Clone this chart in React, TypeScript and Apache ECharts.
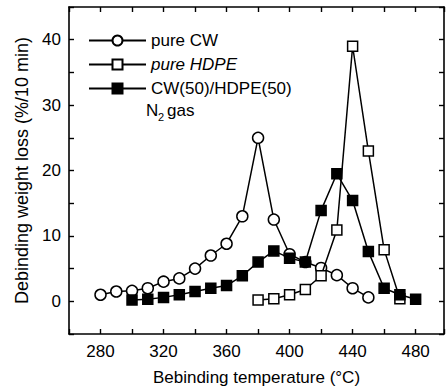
import React, { useEffect, useRef } from "react";
import * as echarts from "echarts";

const cwTemps = [280, 290, 300, 310, 320, 330, 340, 350, 360, 370, 380, 390, 400, 410, 420, 430, 440, 450];
const cwValues = [1.0, 1.5, 1.6, 2.0, 3.0, 3.5, 5.0, 7.0, 8.8, 13.0, 25.0, 12.5, 7.2, 6.0, 5.1, 4.0, 2.0, 0.6];

const hdpeTemps = [380, 390, 400, 410, 420, 430, 440, 450, 460, 470];
const hdpeValues = [0.2, 0.4, 1.0, 1.8, 3.9, 10.9, 39.0, 23.0, 7.9, 0.4];

const mixTemps = [300, 310, 320, 330, 340, 350, 360, 370, 380, 390, 400, 410, 420, 430, 440, 450, 460, 470, 480];
const mixValues = [0.2, 0.3, 0.6, 1.0, 1.5, 2.0, 2.4, 3.9, 6.0, 7.7, 6.6, 6.0, 13.9, 19.5, 15.4, 7.6, 2.0, 1.0, 0.3];

const seriesNames = ["pure CW", "pure HDPE", "CW(50)/HDPE(50)"];
const xAxisTitle = "Bebinding temperature (°C)";
const yAxisTitle = "Debinding weight loss (%/10 min)";

const FONT = "Liberation Sans, Arial, Helvetica, sans-serif";

function pairs(xs: number[], ys: number[]) {
  return xs.map((x, i) => [x, ys[i]]);
}

export default function App() {
  const ref = useRef<HTMLDivElement>(null);
  useEffect(() => {
    if (!ref.current) return;
    const chart = echarts.init(ref.current, undefined, { renderer: "svg" });
    const axisLine = { show: true, onZero: false, lineStyle: { color: "#000", width: 1.6 } };
    const tick = { show: true, inside: true, length: 5, lineStyle: { color: "#000", width: 1.4 } };
    const lineStyle = { color: "#000", width: 1.5 };
    chart.setOption({
      animation: false,
      backgroundColor: "#fff",
      grid: { left: 69, right: 0, top: 7, bottom: 58, containLabel: false },
      legend: {
        orient: "vertical",
        left: 83,
        top: 27,
        itemWidth: 57,
        itemHeight: 12.5,
        itemGap: 7,
        data: seriesNames,
        textStyle: {
          fontFamily: FONT,
          fontSize: 17,
          color: "#000",
          rich: { i: { fontFamily: FONT, fontSize: 17, fontStyle: "italic", color: "#000" } },
        },
        formatter: (n: string) => (n === "pure HDPE" ? "{i|pure HDPE}" : n),
      },
      xAxis: [
        {
          type: "value",
          min: 260,
          max: 498,
          interval: 20,
          position: "bottom",
          name: xAxisTitle,
          nameLocation: "middle",
          nameGap: 35,
          nameTextStyle: { fontFamily: FONT, fontSize: 17, color: "#000" },
          axisLine,
          axisTick: tick,
          splitLine: { show: false },
          axisLabel: {
            fontFamily: FONT,
            fontSize: 17,
            color: "#000",
            margin: 9,
            formatter: (v: number) => (v % 40 === 0 ? String(v) : ""),
          },
        },
        {
          type: "value",
          min: 260,
          max: 498,
          interval: 20,
          position: "top",
          axisLine,
          axisTick: tick,
          splitLine: { show: false },
          axisLabel: { show: false },
        },
      ],
      yAxis: [
        {
          type: "value",
          min: -5,
          max: 45,
          interval: 5,
          position: "left",
          name: yAxisTitle,
          nameLocation: "middle",
          nameGap: 37,
          nameTextStyle: { fontFamily: FONT, fontSize: 18, color: "#000" },
          axisLine,
          axisTick: tick,
          splitLine: { show: false },
          axisLabel: {
            fontFamily: FONT,
            fontSize: 17,
            color: "#000",
            margin: 8,
            formatter: (v: number) => (v % 10 === 0 && v >= 0 && v <= 40 ? String(v) : ""),
          },
        },
        {
          type: "value",
          min: -5,
          max: 45,
          interval: 5,
          position: "right",
          axisLine,
          axisTick: tick,
          splitLine: { show: false },
          axisLabel: { show: false },
        },
      ],
      series: [
        {
          name: seriesNames[0],
          type: "line",
          data: pairs(cwTemps, cwValues),
          symbol: "circle",
          symbolSize: 11,
          lineStyle,
          itemStyle: { color: "#fff", borderColor: "#000", borderWidth: 1.5 },
          z: 3,
        },
        {
          name: seriesNames[1],
          type: "line",
          data: pairs(hdpeTemps, hdpeValues),
          symbol: "rect",
          symbolSize: 10,
          lineStyle,
          itemStyle: { color: "#fff", borderColor: "#000", borderWidth: 1.5 },
          z: 4,
        },
        {
          name: seriesNames[2],
          type: "line",
          data: pairs(mixTemps, mixValues),
          symbol: "rect",
          symbolSize: 10,
          lineStyle,
          itemStyle: { color: "#000", borderColor: "#000", borderWidth: 1.5 },
          z: 5,
        },
      ],
      graphic: [
        {
          type: "text",
          left: 146,
          top: 102,
          style: { text: "N", font: `17px ${FONT}`, fill: "#000" },
        },
        {
          type: "text",
          left: 158,
          top: 111,
          style: { text: "2", font: `11px ${FONT}`, fill: "#000" },
        },
        {
          type: "text",
          left: 167,
          top: 102,
          style: { text: "gas", font: `17px ${FONT}`, fill: "#000" },
        },
      ],
    });
    return () => chart.dispose();
  }, []);
  return (
    <div
      ref={ref}
      style={{ position: "fixed", left: 0, top: 0, width: 447, height: 392 }}
    />
  );
}
